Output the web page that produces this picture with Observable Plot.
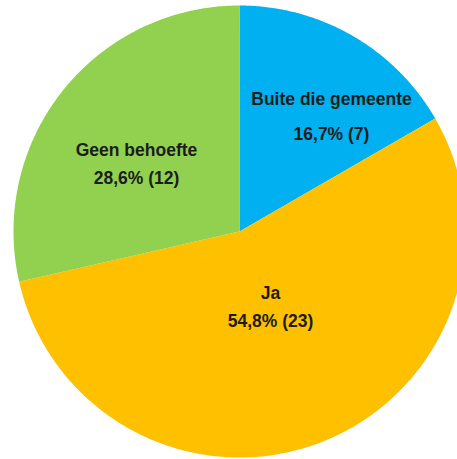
<!DOCTYPE html>
<html><head><meta charset="utf-8">
<script src="https://cdn.jsdelivr.net/npm/d3@7"></script>
<script src="https://cdn.jsdelivr.net/npm/@observablehq/plot@0.6"></script>
<style>html,body{margin:0;padding:0;background:#fff;overflow:hidden}</style>
</head><body><div id="chart"></div>
<script>
// Data
const categories = ["Buite die gemeente", "Ja", "Geen behoefte"];
const counts = [7, 23, 12];
const percentLabels = ["16,7%", "54,8%", "28,6%"];
const colors = ["#00B0F0", "#FFC000", "#92D050"];

// Layout (pixels)
const W = 457, H = 459, cx = 239, cy = 231, R = 226;
const labelLayout = {
  "Buite die gemeente": {x: 331, y1: 104, y2: 139},
  "Ja": {x: 270, y1: 298, y2: 326},
  "Geen behoefte": {x: 136, y1: 155, y2: 183.5}
};

const rows = categories.map((c, i) => ({category: c, count: counts[i], pct: percentLabels[i]}));
const arcs = d3.pie().sort(null).value(d => d.count)(rows);

const features = arcs.map(a => {
  const n = Math.max(2, Math.ceil((a.endAngle - a.startAngle) / (Math.PI / 360)));
  const ring = [[cx, cy]];
  for (let k = 0; k <= n; k++) {
    const t = a.startAngle + (a.endAngle - a.startAngle) * k / n;
    ring.push([cx + R * Math.sin(t), cy - R * Math.cos(t)]);
  }
  ring.push([cx, cy]);
  return {type: "Feature", properties: {category: a.data.category}, geometry: {type: "Polygon", coordinates: [ring]}};
});

const labels = [];
rows.forEach(r => {
  const L = labelLayout[r.category];
  labels.push({x: L.x, y: L.y1, text: r.category});
  labels.push({x: L.x, y: L.y2, text: `${r.pct} (${r.count})`});
});

const chart = Plot.plot({
  width: W,
  height: H,
  margin: 0,
  projection: {type: "identity"},
  style: {fontFamily: "'Liberation Sans', Arial, sans-serif", background: "#fff"},
  color: {domain: categories, range: colors},
  marks: [
    Plot.geo(features, {fill: d => d.properties.category}),
    Plot.text(labels, {
      x: "x", y: "y", text: "text",
      fontSize: 17.5, fontWeight: "bold", fill: "#1c1c1c",
      textAnchor: "middle", lineAnchor: "bottom", letterSpacing: "-0.3px"
    })
  ]
});
document.getElementById("chart").appendChild(chart);
</script>
</body></html>
